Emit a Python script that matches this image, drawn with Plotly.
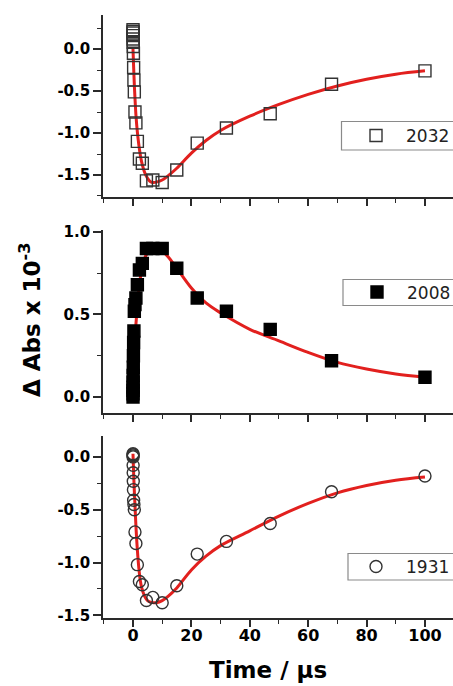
import plotly.graph_objects as go

# ---------------- data ----------------
time_us = [0.01, 0.015, 0.022, 0.032, 0.046, 0.068, 0.1, 0.15, 0.22, 0.32, 0.46, 0.68,
           1.0, 1.5, 2.2, 3.2, 4.6, 6.8, 10, 15, 22, 32, 47, 68, 100]

abs_2032 = [0.23, 0.21, 0.19, 0.16, 0.12, 0.08, 0.03, -0.05, -0.22, -0.37, -0.51, -0.75,
            -0.88, -1.10, -1.31, -1.36, -1.57, -1.56, -1.59, -1.44, -1.12, -0.94, -0.77, -0.42, -0.26]

abs_2008 = [0.00, 0.02, 0.04, 0.06, 0.09, 0.13, 0.18, 0.25, 0.33, 0.40, 0.52, 0.56,
            0.60, 0.68, 0.77, 0.81, 0.90, 0.90, 0.90, 0.78, 0.60, 0.52, 0.41, 0.22, 0.12]

abs_1931 = [0.03, 0.02, 0.01, 0.00, -0.08, -0.15, -0.23, -0.31, -0.41, -0.45, -0.50, -0.71,
            -0.82, -1.02, -1.18, -1.21, -1.36, -1.33, -1.38, -1.22, -0.92, -0.80, -0.63, -0.33, -0.18]

fit_time = [0, 0.25, 0.5, 0.75, 1.0, 1.5, 2.0, 2.5, 3, 4, 5, 6, 7, 8, 10, 12, 15,
            20, 25, 30, 40, 50, 60, 70, 80, 90, 100]

fit_2032 = [0.0, -0.24, -0.46, -0.63, -0.78, -0.99, -1.14, -1.26, -1.35, -1.47, -1.54, -1.58,
            -1.59, -1.585, -1.56, -1.51, -1.42, -1.24, -1.09, -0.97, -0.80, -0.66, -0.54,
            -0.44, -0.36, -0.30, -0.26]

fit_2008 = [0.0, 0.13, 0.26, 0.37, 0.44, 0.55, 0.65, 0.72, 0.77, 0.84, 0.875, 0.895,
            0.90, 0.90, 0.885, 0.85, 0.78, 0.66, 0.57, 0.51, 0.41, 0.34, 0.27, 0.21,
            0.17, 0.14, 0.12]

fit_1931 = [0.03, -0.18, -0.35, -0.50, -0.65, -0.88, -1.05, -1.17, -1.24, -1.32, -1.36, -1.375,
            -1.38, -1.38, -1.36, -1.32, -1.24, -1.07, -0.94, -0.84, -0.70, -0.56, -0.44,
            -0.34, -0.27, -0.22, -0.19]

series_names = ["2032", "2008", "1931"]
x_ticks = [0, 20, 40, 60, 80, 100]

# ---------------- figure ----------------
W, H = 453, 686
RED = "rgb(226,32,30)"
AX = "#2a2a2a"
FONT = "DejaVu Sans"

fig = go.Figure()

def py(p):
    return 1 - p / H

panels = [
    (abs_2032, fit_2032, "square-open", "legend", "x", "y", (15, 197), [-1.762, 0.405], [0.0, -0.5, -1.0, -1.5]),
    (abs_2008, fit_2008, "square", "legend2", "x2", "y2", (230, 413), [-0.097, 1.012], [0.0, 0.5, 1.0]),
    (abs_1931, fit_1931, "circle-open", "legend3", "x3", "y3", (436, 618), [-1.525, 0.198], [0.0, -0.5, -1.0, -1.5]),
]

for i, (dat, fit, sym, leg, xa, ya, dom, yr, yt) in enumerate(panels):
    fig.add_trace(go.Scatter(
        x=fit_time, y=fit, mode="lines", line=dict(color=RED, width=3, shape="spline"),
        xaxis=xa, yaxis=ya, showlegend=False, hoverinfo="skip"))
    filled = sym == "square"
    fig.add_trace(go.Scatter(
        x=time_us, y=dat, mode="markers", name=series_names[i],
        marker=dict(symbol=sym, size=12,
                    color="black" if filled else "#333333",
                    line=dict(color="black" if filled else "#333333", width=1.4)),
        xaxis=xa, yaxis=ya, legend=leg, showlegend=True))

    sfx = "" if i == 0 else str(i + 1)
    last = i == 2
    fig.update_layout(**{
        "xaxis" + sfx: dict(
            domain=[103 / W, 1.0], range=[-10.27, 109.6], anchor=ya,
            showline=True, linecolor=AX, linewidth=1.6, showgrid=False, zeroline=False,
            tickmode="array", tickvals=x_ticks, ticks="outside", ticklen=7, tickwidth=1.6,
            tickcolor=AX, showticklabels=last, ticklabelstandoff=-5,
            tickfont=dict(family=FONT, size=16, color="black", weight="bold"),
            minor=dict(ticks="outside", dtick=10, tick0=0, ticklen=4, tickwidth=1.4, tickcolor=AX),
        ),
        "yaxis" + sfx: dict(
            domain=[py(dom[1]), py(dom[0])], range=yr, anchor=xa,
            showline=True, linecolor=AX, linewidth=1.6, showgrid=False, zeroline=False,
            tickmode="array", tickvals=yt, ticktext=["%.1f" % v for v in yt],
            ticks="outside", ticklen=8, tickwidth=1.6, tickcolor=AX,
            tickfont=dict(family=FONT, size=15, color="black", weight="bold"),
            minor=dict(ticks="outside", dtick=0.25, tick0=0, ticklen=4, tickwidth=1.4, tickcolor=AX),
        ),
    })

leg_common = dict(xanchor="left", yanchor="middle", bgcolor="rgba(0,0,0,0)",
                  borderwidth=0,
                  font=dict(family=FONT, size=17, color="#222222"),
                  itemwidth=50, tracegroupgap=0)

# legend frames (px): left, top, bottom — they run past the right edge as in the source
frames = [(341.5, 121.5, 150), (343, 279.5, 305.5), (348, 553.5, 580)]
shapes = [dict(type="rect", xref="paper", yref="paper",
               x0=l / W, x1=470 / W, y0=py(b), y1=py(t),
               line=dict(color="#8a8a8a", width=1.2), fillcolor="white", layer="above")
          for (l, t, b) in frames]

fig.update_layout(
    width=W, height=H, autosize=False,
    margin=dict(l=0, r=0, t=0, b=0, autoexpand=False),
    paper_bgcolor="white", plot_bgcolor="white",
    legend=dict(x=346 / W, y=py(136), **leg_common),
    legend2=dict(x=347 / W, y=py(292.5), **leg_common),
    legend3=dict(x=346 / W, y=py(567), **leg_common),
    shapes=shapes,
    annotations=[
        dict(text="Δ Abs x 10<sup>-3</sup>", x=30 / W, y=py(320), xref="paper", yref="paper",
             textangle=-90, showarrow=False, xanchor="center", yanchor="middle",
             font=dict(family=FONT, size=23, color="black", weight="bold")),
        dict(text="Time / µs", x=268 / W, y=py(670), xref="paper", yref="paper",
             showarrow=False, xanchor="center", yanchor="middle",
             font=dict(family=FONT, size=23, color="black", weight="bold")),
    ],
)

fig.write_html("out.html")
